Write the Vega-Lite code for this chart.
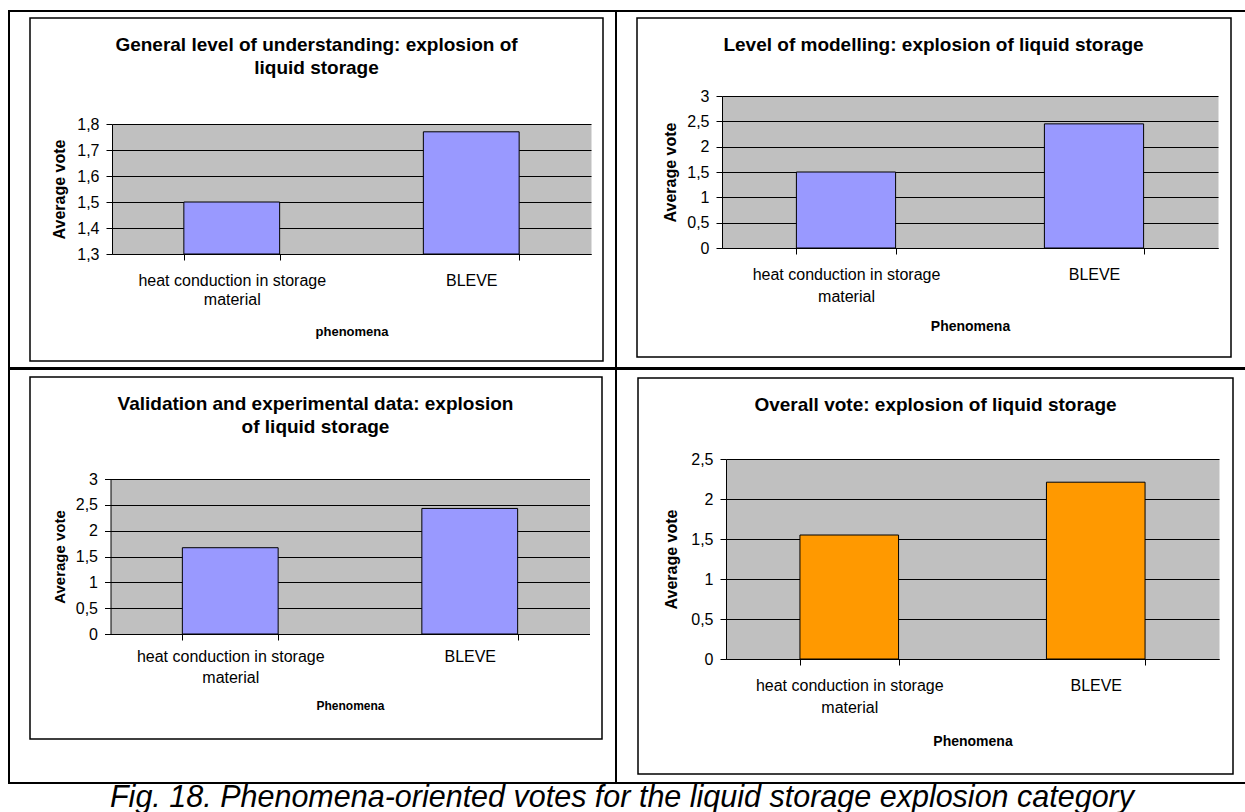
{
  "$schema": "https://vega.github.io/schema/vega-lite/v6.json",
  "padding": {"left": 8, "top": 10, "right": 0, "bottom": 0},
  "spacing": -2,
  "config": {
    "font": "Liberation Sans",
    "view": {"stroke": "#000", "strokeWidth": 2},
    "axis": {"labelFont": "Liberation Sans", "titleFont": "Liberation Sans", "labelColor": "#000", "titleColor": "#000", "domainColor": "#000", "tickColor": "#000", "tickSize": 6, "domainWidth": 1, "tickWidth": 1, "gridColor": "#000", "gridOpacity": 1, "gridWidth": 1, "labelFontSize": 16, "titleFontSize": 16, "titleFontWeight": "bold"},
    "title": {"font": "Liberation Sans", "color": "#000", "fontWeight": "bold", "fontSize": 19, "anchor": "middle", "baseline": "alphabetic", "lineHeight": 23}
  },
  "datasets": {
    "p1": [{"phen": "heat conduction in storage material", "vote": 1.5}, {"phen": "BLEVE", "vote": 1.77}],
    "p2": [{"phen": "heat conduction in storage material", "vote": 1.5}, {"phen": "BLEVE", "vote": 2.45}],
    "p3": [{"phen": "heat conduction in storage material", "vote": 1.67}, {"phen": "BLEVE", "vote": 2.43}],
    "p4": [{"phen": "heat conduction in storage material", "vote": 1.55}, {"phen": "BLEVE", "vote": 2.21}]
  },
  "vconcat": [
    {
      "hconcat": [
        {
          "width": 607, "height": 357,
          "title": {"text": ["General level of understanding: explosion of", "liquid storage"], "offset": -67, "dx": 4},
          "layer": [
            {"data": {"values": [{}]},
             "mark": {"type": "rect", "filled": false, "stroke": "#000", "strokeWidth": 1.5},
             "encoding": {
               "x": {"datum": 0, "type": "quantitative", "scale": {"domain": [0, 1], "range": [21, 594]}, "axis": null},
               "x2": {"datum": 1},
               "y": {"datum": 0, "type": "quantitative", "scale": {"domain": [0, 1], "range": [350, 7]}, "axis": null},
               "y2": {"datum": 1}}},
            {"data": {"name": "p1"},
             "encoding": {
               "x": {"field": "phen", "type": "nominal", "sort": null,
                     "scale": {"range": [103, 582], "paddingInner": 0.6, "paddingOuter": 0.3},
                     "axis": {"orient": "bottom", "offset": -114, "tickBand": "extent", "labelAngle": 0, "labelExpr": "datum.value == 'heat conduction in storage material' ? ['heat conduction in storage', 'material'] : datum.label", "labelLimit": 400, "labelPadding": 12, "labelLineHeight": 19, "title": "phenomena", "titleFontSize": 13, "titlePadding": 18}},
               "y2": {"datum": 1.3}
             },
             "layer": [
               {"mark": {"type": "bar", "opacity": 0},
                "encoding": {
                  "y": {"field": "vote", "type": "quantitative", "axis": {"orient": "left", "offset": -103, "values": [1.55], "grid": true, "gridColor": "#C0C0C0", "gridWidth": 130, "domain": false, "ticks": false, "labels": false, "title": null}}}},
               {"mark": {"type": "bar", "fill": "#9999FF", "stroke": "#000", "strokeWidth": 1},
                "encoding": {
                  "y": {"field": "vote", "type": "quantitative",
                        "scale": {"domain": [1.3, 1.8], "range": [243, 113], "nice": false, "zero": false},
                        "axis": {"orient": "left", "offset": -103, "values": [1.3, 1.4, 1.5, 1.6, 1.7, 1.8], "grid": true, "labelExpr": "replace(format(datum.value, '.1~f'), '.', ',')", "labelPadding": 7, "title": "Average vote", "titlePadding": 9}}}}
             ],
             "resolve": {"axis": {"y": "independent"}}}
          ],
          "resolve": {"scale": {"x": "independent", "y": "independent"}}
        },
        {
          "width": 631, "height": 357,
          "title": {"text": "Level of modelling: explosion of liquid storage", "offset": -44, "dx": 2},
          "layer": [
            {"data": {"values": [{}]},
             "mark": {"type": "rect", "filled": false, "stroke": "#000", "strokeWidth": 1.5},
             "encoding": {
               "x": {"datum": 0, "type": "quantitative", "scale": {"domain": [0, 1], "range": [21, 615]}, "axis": null},
               "x2": {"datum": 1},
               "y": {"datum": 0, "type": "quantitative", "scale": {"domain": [0, 1], "range": [346, 7]}, "axis": null},
               "y2": {"datum": 1}}},
            {"data": {"name": "p2"},
             "encoding": {
               "x": {"field": "phen", "type": "nominal", "sort": null,
                     "scale": {"range": [106, 602], "paddingInner": 0.6, "paddingOuter": 0.3},
                     "axis": {"orient": "bottom", "offset": -120, "tickBand": "extent", "labelAngle": 0, "labelExpr": "datum.value == 'heat conduction in storage material' ? ['heat conduction in storage', 'material'] : datum.label", "labelLimit": 400, "labelPadding": 12, "labelLineHeight": 22, "title": "Phenomena", "titleFontSize": 14, "titlePadding": 15}},
               "y2": {"datum": 0}
             },
             "layer": [
               {"mark": {"type": "bar", "opacity": 0},
                "encoding": {
                  "y": {"field": "vote", "type": "quantitative", "axis": {"orient": "left", "offset": -106, "values": [1.5], "grid": true, "gridColor": "#C0C0C0", "gridWidth": 152, "domain": false, "ticks": false, "labels": false, "title": null}}}},
               {"mark": {"type": "bar", "fill": "#9999FF", "stroke": "#000", "strokeWidth": 1},
                "encoding": {
                  "y": {"field": "vote", "type": "quantitative",
                        "scale": {"domain": [0, 3], "range": [237, 85], "nice": false, "zero": false},
                        "axis": {"orient": "left", "offset": -106, "values": [0, 0.5, 1, 1.5, 2, 2.5, 3], "grid": true, "labelExpr": "replace(format(datum.value, '.1~f'), '.', ',')", "labelPadding": 7, "title": "Average vote", "titlePadding": 8.5}}}}
             ],
             "resolve": {"axis": {"y": "independent"}}}
          ],
          "resolve": {"scale": {"x": "independent", "y": "independent"}}
        }
      ],
      "spacing": 0,
      "bounds": "flush"
    },
    {
      "hconcat": [
        {
          "width": 607, "height": 414,
          "title": {"text": ["Validation and experimental data: explosion", "of liquid storage"], "offset": -68, "dx": 3},
          "layer": [
            {"data": {"values": [{}]},
             "mark": {"type": "rect", "filled": false, "stroke": "#000", "strokeWidth": 1.5},
             "encoding": {
               "x": {"datum": 0, "type": "quantitative", "scale": {"domain": [0, 1], "range": [21, 593]}, "axis": null},
               "x2": {"datum": 1},
               "y": {"datum": 0, "type": "quantitative", "scale": {"domain": [0, 1], "range": [370, 8]}, "axis": null},
               "y2": {"datum": 1}}},
            {"data": {"name": "p3"},
             "encoding": {
               "x": {"field": "phen", "type": "nominal", "sort": null,
                     "scale": {"range": [101.5, 580.5], "paddingInner": 0.6, "paddingOuter": 0.3},
                     "axis": {"orient": "bottom", "offset": -149, "tickBand": "extent", "labelAngle": 0, "labelExpr": "datum.value == 'heat conduction in storage material' ? ['heat conduction in storage', 'material'] : datum.label", "labelLimit": 400, "labelPadding": 8, "labelLineHeight": 21, "title": "Phenomena", "titleFontSize": 12, "titlePadding": 15}},
               "y2": {"datum": 0}
             },
             "layer": [
               {"mark": {"type": "bar", "opacity": 0},
                "encoding": {
                  "y": {"field": "vote", "type": "quantitative", "axis": {"orient": "left", "offset": -101.5, "values": [1.5], "grid": true, "gridColor": "#C0C0C0", "gridWidth": 155, "domain": false, "ticks": false, "labels": false, "title": null}}}},
               {"mark": {"type": "bar", "fill": "#9999FF", "stroke": "#000", "strokeWidth": 1},
                "encoding": {
                  "y": {"field": "vote", "type": "quantitative",
                        "scale": {"domain": [0, 3], "range": [265, 110], "nice": false, "zero": false},
                        "axis": {"orient": "left", "offset": -101.5, "values": [0, 0.5, 1, 1.5, 2, 2.5, 3], "grid": true, "labelExpr": "replace(format(datum.value, '.1~f'), '.', ',')", "labelPadding": 7, "title": "Average vote", "titleFontSize": 15, "titlePadding": 7.5}}}}
             ],
             "resolve": {"axis": {"y": "independent"}}}
          ],
          "resolve": {"scale": {"x": "independent", "y": "independent"}}
        },
        {
          "width": 631, "height": 414,
          "title": {"text": "Overall vote: explosion of liquid storage", "offset": -46, "dx": 4},
          "layer": [
            {"data": {"values": [{}]},
             "mark": {"type": "rect", "filled": false, "stroke": "#000", "strokeWidth": 1.5},
             "encoding": {
               "x": {"datum": 0, "type": "quantitative", "scale": {"domain": [0, 1], "range": [22, 617]}, "axis": null},
               "x2": {"datum": 1},
               "y": {"datum": 0, "type": "quantitative", "scale": {"domain": [0, 1], "range": [405, 9]}, "axis": null},
               "y2": {"datum": 1}}},
            {"data": {"name": "p4"},
             "encoding": {
               "x": {"field": "phen", "type": "nominal", "sort": null,
                     "scale": {"range": [110, 603], "paddingInner": 0.6, "paddingOuter": 0.3},
                     "axis": {"orient": "bottom", "offset": -124, "tickBand": "extent", "labelAngle": 0, "labelExpr": "datum.value == 'heat conduction in storage material' ? ['heat conduction in storage', 'material'] : datum.label", "labelLimit": 400, "labelPadding": 12, "labelLineHeight": 22, "title": "Phenomena", "titleFontSize": 14, "titlePadding": 19}},
               "y2": {"datum": 0}
             },
             "layer": [
               {"mark": {"type": "bar", "opacity": 0},
                "encoding": {
                  "y": {"field": "vote", "type": "quantitative", "axis": {"orient": "left", "offset": -110, "values": [1.25], "grid": true, "gridColor": "#C0C0C0", "gridWidth": 200, "domain": false, "ticks": false, "labels": false, "title": null}}}},
               {"mark": {"type": "bar", "fill": "#FF9900", "stroke": "#000", "strokeWidth": 1},
                "encoding": {
                  "y": {"field": "vote", "type": "quantitative",
                        "scale": {"domain": [0, 2.5], "range": [290, 90], "nice": false, "zero": false},
                        "axis": {"orient": "left", "offset": -110, "values": [0, 0.5, 1, 1.5, 2, 2.5], "grid": true, "labelExpr": "replace(format(datum.value, '.1~f'), '.', ',')", "labelPadding": 7, "title": "Average vote", "titlePadding": 11.5}}}}
             ],
             "resolve": {"axis": {"y": "independent"}}}
          ],
          "resolve": {"scale": {"x": "independent", "y": "independent"}}
        }
      ],
      "spacing": 0,
      "bounds": "flush"
    },
    {
      "width": 1238, "height": 50,
      "data": {"values": [{}]},
      "mark": {"type": "text"},
      "encoding": {},
      "title": {"text": "Fig. 18. Phenomena-oriented votes for the liquid storage explosion category", "fontSize": 30.5, "fontStyle": "italic", "fontWeight": "normal", "offset": -27, "dx": -6}
    }
  ]
}
